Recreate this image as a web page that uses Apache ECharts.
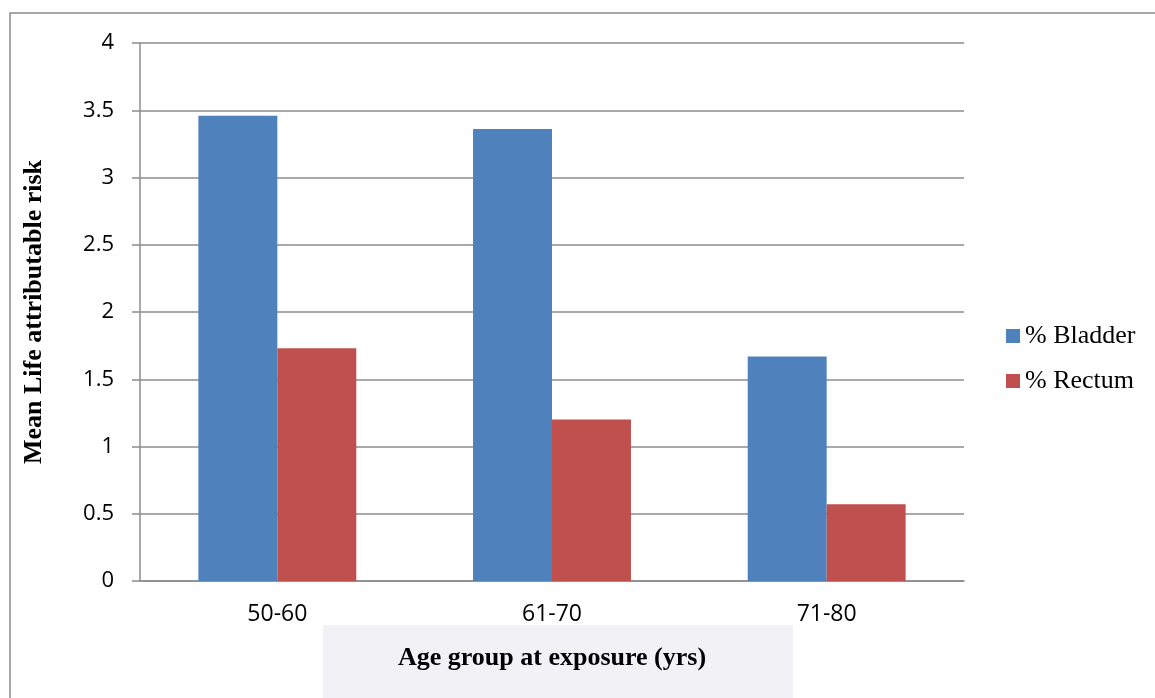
<!DOCTYPE html>
<html><head><meta charset="utf-8">
<script src="https://cdn.jsdelivr.net/npm/echarts@6/dist/echarts.min.js"></script>
<style>html,body{margin:0;padding:0;background:#fff}#c{width:1155px;height:698px}</style>
</head><body><div id="c"></div>
<script>
const categories = ['50-60', '61-70', '71-80'];
const bladder = [3.46, 3.36, 1.67];
const rectum = [1.73, 1.2, 0.57];
const yTicks = [0, 0.5, 1, 1.5, 2, 2.5, 3, 3.5, 4];

const chart = echarts.init(document.getElementById('c'));
chart.setOption({
  animation: false,
  backgroundColor: '#fff',
  graphic: [
    {type: 'rect', shape: {x: 10, y: 13, width: 1160, height: 700}, style: {fill: 'none', stroke: '#8c8c8c', lineWidth: 1.5}, z: 0},
    {type: 'rect', shape: {x: 323, y: 625, width: 470, height: 80}, style: {fill: '#f2f2f6'}, z: 0}
  ],
  grid: {left: 140, right: 191, top: 43, bottom: 117},
  legend: {
    orient: 'vertical', left: 1001, top: 318, itemWidth: 14, itemHeight: 14, itemGap: 19,
    icon: 'rect',
    textStyle: {fontFamily: 'Liberation Serif', fontSize: 26, color: '#000'},
    data: ['% Bladder', '% Rectum']
  },
  xAxis: {
    type: 'category', data: categories,
    axisLine: {lineStyle: {color: '#8c8c8c', width: 1.5}},
    axisTick: {show: false},
    axisLabel: {fontFamily: 'Open Sans', fontSize: 23, color: '#000', margin: 22},
    name: 'Age group at exposure (yrs)', nameLocation: 'middle', nameGap: 64,
    nameTextStyle: {fontFamily: 'Liberation Serif', fontSize: 26, fontWeight: 'bold', color: '#000'}
  },
  yAxis: {
    type: 'value', min: 0, max: 4, interval: 0.5,
    axisLine: {show: true, lineStyle: {color: '#8c8c8c', width: 1.5}},
    axisTick: {show: true, length: 8, lineStyle: {color: '#8c8c8c', width: 1.5}},
    splitLine: {lineStyle: {color: '#8c8c8c', width: 1.5}},
    axisLabel: {fontFamily: 'Open Sans', fontSize: 22, color: '#000', margin: 26,
      formatter: v => yTicks.includes(v) ? String(v) : ''},
    name: 'Mean Life attributable risk', nameLocation: 'middle', nameGap: 93, nameRotate: 90,
    nameTextStyle: {fontFamily: 'Liberation Serif', fontSize: 26, fontWeight: 'bold', color: '#000'}
  },
  series: [
    {name: '% Bladder', type: 'bar', data: bladder, barGap: '0%', barCategoryGap: '42.5%', itemStyle: {color: '#4f81bd'}},
    {name: '% Rectum', type: 'bar', data: rectum, itemStyle: {color: '#c0504d'}}
  ]
});
</script></body></html>
